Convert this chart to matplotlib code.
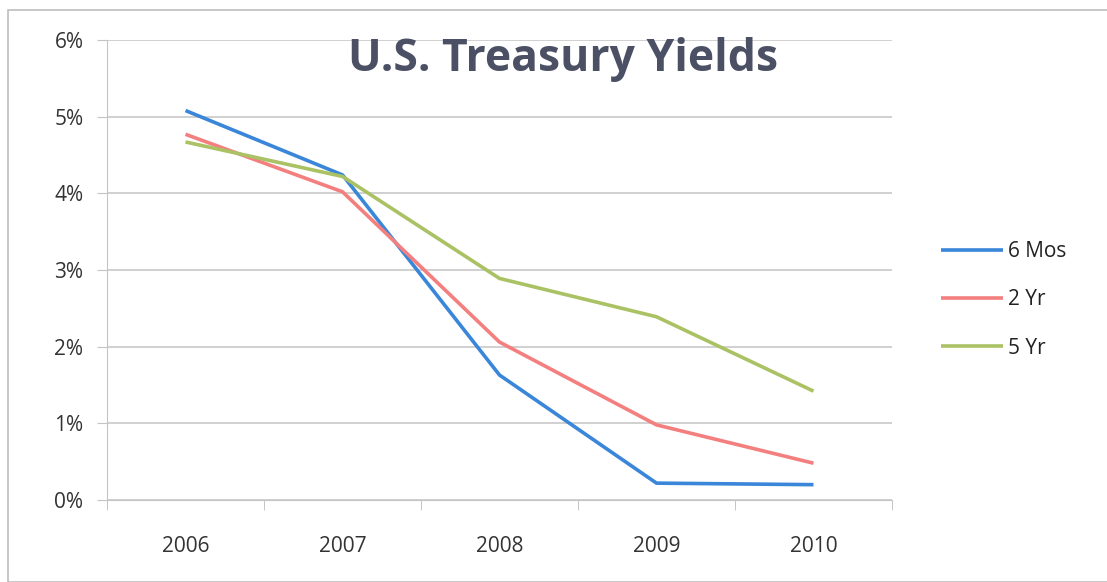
import matplotlib
matplotlib.use("Agg")
import matplotlib.pyplot as plt
from matplotlib.patches import Rectangle
from matplotlib.ticker import FixedLocator, FuncFormatter

years = ["2006", "2007", "2008", "2009", "2010"]
six_mos = [5.08, 4.24, 1.63, 0.22, 0.20]
two_yr = [4.77, 4.02, 2.06, 0.98, 0.48]
five_yr = [4.67, 4.22, 2.89, 2.39, 1.42]
series_names = ["6 Mos", "2 Yr", "5 Yr"]
colors = ["#3a86d9", "#f47f7f", "#aac264"]

plt.rcParams["font.family"] = ["Open Sans", "DejaVu Sans"]

fig = plt.figure(figsize=(11.07, 5.82), dpi=100)
fig.patch.set_facecolor("white")
fig.add_artist(Rectangle((8 / 1107, 0), 1, 1 - 10 / 582, transform=fig.transFigure,
                         fill=False, edgecolor="#bdbdbd", linewidth=1.2))

ax = fig.add_axes([107 / 1107, 1 - 500 / 582, (892 - 107) / 1107, (500 - 40) / 582])
x = range(len(years))
for vals, name, c in zip([six_mos, two_yr, five_yr], series_names, colors):
    ax.plot(x, vals, color=c, linewidth=2.6, label=name, solid_capstyle="butt")

ax.set_xlim(-0.5, len(years) - 0.5)
ax.set_ylim(0, 6)
ax.set_yticks(range(0, 7))
ax.yaxis.set_major_formatter(FuncFormatter(lambda v, p: f"{int(v)}%"))
ax.set_xticks(list(x))
ax.set_xticklabels(years)
ax.xaxis.set_minor_locator(FixedLocator([i - 0.5 for i in range(len(years) + 1)]))
ax.tick_params(axis="x", which="major", length=0, pad=26, labelsize=15, labelcolor="#333333")
ax.tick_params(axis="x", which="minor", length=7, color="#bbbbbb", direction="out")
ax.tick_params(axis="y", length=7, color="#c4c4c4", labelsize=15, labelcolor="#333333", pad=10)
ax.grid(axis="y", color="#c4c4c4", linewidth=1.1)
ax.set_axisbelow(True)
for s in ["top", "right"]:
    ax.spines[s].set_visible(False)
ax.spines["left"].set_color("#c4c4c4")
ax.spines["bottom"].set_color("#c4c4c4")

fig.text(563 / 1107, 1 - 60 / 582, "U.S. Treasury Yields", ha="center", va="center",
         fontsize=32, fontweight="bold", color="#4b5064")

fig.legend(loc="center left", bbox_to_anchor=(922 / 1107, 1 - 300 / 582), frameon=False,
           fontsize=15, handlelength=3.0, handletextpad=0.25, labelspacing=1.3,
           labelcolor="#222222")

fig.savefig("out.png", dpi=100, facecolor="white")
